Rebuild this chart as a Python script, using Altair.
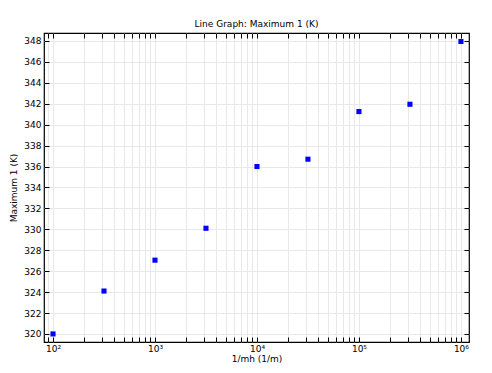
import altair as alt
import pandas as pd

x_vals = [100, 316.2, 1000, 3162, 10000, 31623, 100000, 316228, 1000000]
y_vals = [320.0, 324.1, 327.05, 330.1, 336.0, 336.7, 341.25, 341.95, 347.95]

decade_vals = [100, 1000, 10000, 100000, 1000000]
decade_labels = ["10²", "10³", "10⁴", "10⁵", "10⁶"]
y_ticks = list(range(320, 349, 2))

x_ticks = [90]
for d in range(2, 6):
    for k in range(1, 10):
        x_ticks.append(k * 10 ** d)
x_ticks.append(1000000)

df = pd.DataFrame({"x": x_vals, "y": y_vals})

expr = "''"
for v, lab in zip(reversed(decade_vals), reversed(decade_labels)):
    expr = f"datum.value == {v} ? '{lab}' : ({expr})"

FONT = "DejaVu Sans"
x_dom = [81.6, 1.2e6]
y_dom = [319.23, 348.76]

x_axis_bottom = alt.Axis(values=x_ticks, labelExpr=expr, title="1/mh (1/m)",
                         grid=True, gridColor="#e8e8e8", domain=False,
                         offset=-5, tickSize=5, tickColor="black",
                         labelPadding=2, labelOverlap=False, labelFlush=False,
                         labelFont=FONT, labelFontSize=9, labelColor="black",
                         titleFont=FONT, titleFontSize=9, titleFontWeight="normal",
                         titleColor="black", titlePadding=1)
y_axis_left = alt.Axis(values=y_ticks, title="Maximum 1 (K)", grid=True,
                       gridColor="#e8e8e8", domain=False, offset=-5, tickSize=5,
                       tickColor="black", labelPadding=3, labelOverlap=False,
                       labelFlush=False, labelFont=FONT, labelFontSize=9,
                       labelColor="black", titleFont=FONT, titleFontSize=9,
                       titleFontWeight="normal", titleColor="black", titlePadding=5)
x_axis_top = alt.Axis(values=x_ticks, labels=False, title=None, grid=False,
                      domain=False, offset=-5, tickSize=5, tickColor="black",
                      orient="top")
y_axis_right = alt.Axis(values=y_ticks, labels=False, title=None, grid=False,
                        domain=False, offset=-5, tickSize=5, tickColor="black",
                        orient="right")

base = alt.Chart(df)
pts = base.mark_square(size=26, color="#0000ff", opacity=1).encode(
    x=alt.X("x:Q", scale=alt.Scale(type="log", domain=x_dom, nice=False), axis=x_axis_bottom),
    y=alt.Y("y:Q", scale=alt.Scale(domain=y_dom, nice=False, zero=False), axis=y_axis_left),
)
frame = base.mark_square(size=26, opacity=0).encode(
    x=alt.X("x:Q", scale=alt.Scale(type="log", domain=x_dom, nice=False), axis=x_axis_top),
    y=alt.Y("y:Q", scale=alt.Scale(domain=y_dom, nice=False, zero=False), axis=y_axis_right),
)

chart = alt.layer(frame, pts).resolve_axis(x="independent", y="independent").properties(
    width=425, height=309,
    title=alt.TitleParams("Line Graph: Maximum 1 (K)", font=FONT, fontSize=9,
                          fontWeight="normal", color="black", offset=4, anchor="middle"),
    autosize=alt.AutoSizeParams(type="none"),
    padding={"left": 36, "top": 25, "right": 15, "bottom": 23},
).configure_view(stroke="black", strokeWidth=1.2)

chart.save("out.html", embed_options={"renderer": "svg", "actions": False})
